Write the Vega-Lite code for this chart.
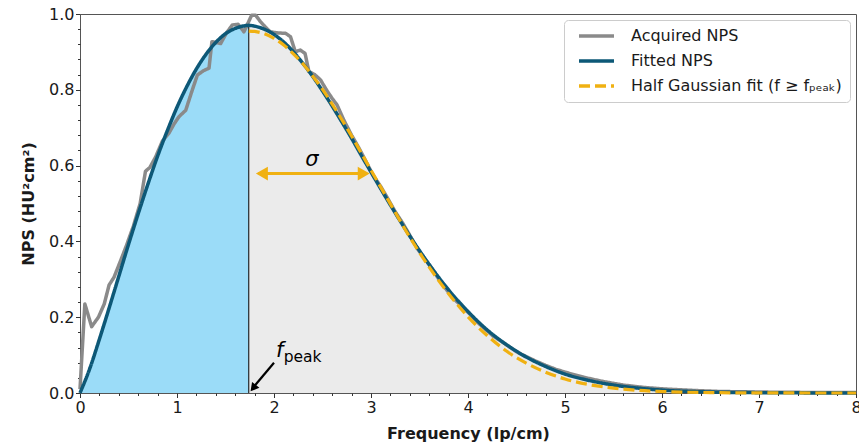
{
  "$schema": "https://vega.github.io/schema/vega-lite/v6.json",
  "width": 776,
  "height": 379,
  "autosize": {"type": "none"},
  "padding": {"left": 80, "top": 14, "right": 3, "bottom": 54},
  "background": "white",
  "config": {
    "font": "DejaVu Sans",
    "view": {"stroke": "#555555", "strokeWidth": 1},
    "legend": {
      "orient": "top-right",
      "offset": 6,
      "symbolType": "stroke",
      "symbolSize": 1225,
      "symbolStrokeWidth": 3.5,
      "symbolOffset": 5,
      "clipHeight": 16,
      "labelFontSize": 16,
      "labelColor": "#1a1a1a",
      "labelFont": "DejaVu Sans",
      "labelOffset": 15,
      "labelLimit": 400,
      "padding": 8,
      "rowPadding": 9,
      "strokeColor": "#cccccc",
      "fillColor": "white",
      "cornerRadius": 4
    }
  },
  "datasets": {
    "fitted": [
      {"f": 0, "v": 0}, {"f": 0.1, "v": 0.064}, {"f": 0.2, "v": 0.142}, {"f": 0.3, "v": 0.224},
      {"f": 0.4, "v": 0.308}, {"f": 0.5, "v": 0.392}, {"f": 0.6, "v": 0.473}, {"f": 0.7, "v": 0.551},
      {"f": 0.8, "v": 0.625}, {"f": 0.9, "v": 0.692}, {"f": 1.0, "v": 0.754}, {"f": 1.1, "v": 0.808},
      {"f": 1.2, "v": 0.855}, {"f": 1.3, "v": 0.894}, {"f": 1.4, "v": 0.925}, {"f": 1.5, "v": 0.948},
      {"f": 1.6, "v": 0.962}, {"f": 1.7, "v": 0.969}, {"f": 1.74, "v": 0.970}, {"f": 1.8, "v": 0.968},
      {"f": 1.9, "v": 0.960}, {"f": 2.0, "v": 0.946}, {"f": 2.1, "v": 0.926}, {"f": 2.2, "v": 0.900},
      {"f": 2.3, "v": 0.869}, {"f": 2.4, "v": 0.835}, {"f": 2.5, "v": 0.797}, {"f": 2.6, "v": 0.757},
      {"f": 2.7, "v": 0.715}, {"f": 2.8, "v": 0.672}, {"f": 2.9, "v": 0.627}, {"f": 3.0, "v": 0.583},
      {"f": 3.2, "v": 0.496}, {"f": 3.4, "v": 0.414}, {"f": 3.6, "v": 0.339}, {"f": 3.8, "v": 0.272},
      {"f": 4.0, "v": 0.215}, {"f": 4.2, "v": 0.166}, {"f": 4.4, "v": 0.127}, {"f": 4.6, "v": 0.095},
      {"f": 4.8, "v": 0.070}, {"f": 5.0, "v": 0.050}, {"f": 5.25, "v": 0.033}, {"f": 5.5, "v": 0.021},
      {"f": 5.75, "v": 0.013}, {"f": 6.0, "v": 0.0076}, {"f": 6.5, "v": 0.0026}, {"f": 7.0, "v": 0.0009},
      {"f": 7.5, "v": 0.0003}, {"f": 8.0, "v": 0.0001}
    ],
    "gaussian": [
      {"f": 1.74, "v": 0.955}, {"f": 1.8, "v": 0.954}, {"f": 1.9, "v": 0.948}, {"f": 2.0, "v": 0.936},
      {"f": 2.1, "v": 0.918}, {"f": 2.2, "v": 0.895}, {"f": 2.3, "v": 0.868}, {"f": 2.4, "v": 0.836},
      {"f": 2.5, "v": 0.801}, {"f": 2.6, "v": 0.762}, {"f": 2.7, "v": 0.721}, {"f": 2.8, "v": 0.678},
      {"f": 2.9, "v": 0.633}, {"f": 3.0, "v": 0.588}, {"f": 3.2, "v": 0.499}, {"f": 3.4, "v": 0.411},
      {"f": 3.6, "v": 0.332}, {"f": 3.8, "v": 0.262}, {"f": 4.0, "v": 0.201}, {"f": 4.2, "v": 0.151},
      {"f": 4.4, "v": 0.110}, {"f": 4.6, "v": 0.079}, {"f": 4.8, "v": 0.055}, {"f": 5.0, "v": 0.037},
      {"f": 5.25, "v": 0.022}, {"f": 5.5, "v": 0.013}, {"f": 5.75, "v": 0.007}, {"f": 6.0, "v": 0.004},
      {"f": 6.5, "v": 0.001}, {"f": 7.0, "v": 0.0002}, {"f": 8.0, "v": 0}
    ],
    "acquired": [
      {"f": 0, "v": 0.01}, {"f": 0.05, "v": 0.235}, {"f": 0.12, "v": 0.175}, {"f": 0.19, "v": 0.2},
      {"f": 0.25, "v": 0.235}, {"f": 0.3, "v": 0.285}, {"f": 0.35, "v": 0.305}, {"f": 0.42, "v": 0.35},
      {"f": 0.48, "v": 0.39}, {"f": 0.55, "v": 0.44}, {"f": 0.62, "v": 0.5}, {"f": 0.675, "v": 0.585},
      {"f": 0.72, "v": 0.595}, {"f": 0.78, "v": 0.623}, {"f": 0.85, "v": 0.665}, {"f": 0.915, "v": 0.685},
      {"f": 0.97, "v": 0.71}, {"f": 1.02, "v": 0.729}, {"f": 1.09, "v": 0.746}, {"f": 1.157, "v": 0.799},
      {"f": 1.21, "v": 0.839}, {"f": 1.27, "v": 0.85}, {"f": 1.33, "v": 0.857}, {"f": 1.36, "v": 0.927},
      {"f": 1.45, "v": 0.922}, {"f": 1.51, "v": 0.95}, {"f": 1.57, "v": 0.971}, {"f": 1.63, "v": 0.973},
      {"f": 1.69, "v": 0.953}, {"f": 1.77, "v": 0.997}, {"f": 1.81, "v": 0.997}, {"f": 1.86, "v": 0.98},
      {"f": 1.91, "v": 0.966}, {"f": 1.96, "v": 0.953}, {"f": 2.04, "v": 0.95}, {"f": 2.12, "v": 0.949},
      {"f": 2.17, "v": 0.94}, {"f": 2.22, "v": 0.9}, {"f": 2.27, "v": 0.905}, {"f": 2.32, "v": 0.896},
      {"f": 2.36, "v": 0.848}, {"f": 2.42, "v": 0.84}, {"f": 2.48, "v": 0.826}, {"f": 2.54, "v": 0.8},
      {"f": 2.6, "v": 0.777}, {"f": 2.65, "v": 0.76}, {"f": 2.72, "v": 0.72}, {"f": 2.8, "v": 0.68},
      {"f": 2.87, "v": 0.649}, {"f": 2.93, "v": 0.62}, {"f": 3.02, "v": 0.575}, {"f": 3.1, "v": 0.545},
      {"f": 3.18, "v": 0.51}, {"f": 3.25, "v": 0.478}, {"f": 3.33, "v": 0.447}, {"f": 3.4, "v": 0.416},
      {"f": 3.48, "v": 0.38}, {"f": 3.56, "v": 0.352}, {"f": 3.63, "v": 0.328}, {"f": 3.7, "v": 0.3},
      {"f": 3.78, "v": 0.272}, {"f": 3.86, "v": 0.247}, {"f": 3.94, "v": 0.228}, {"f": 4.02, "v": 0.208},
      {"f": 4.1, "v": 0.186}, {"f": 4.18, "v": 0.168}, {"f": 4.26, "v": 0.15}, {"f": 4.34, "v": 0.137},
      {"f": 4.42, "v": 0.123}, {"f": 4.5, "v": 0.109}, {"f": 4.6, "v": 0.096}, {"f": 4.7, "v": 0.084},
      {"f": 4.8, "v": 0.073}, {"f": 4.9, "v": 0.063}, {"f": 5.0, "v": 0.055}, {"f": 5.2, "v": 0.041},
      {"f": 5.4, "v": 0.03}, {"f": 5.6, "v": 0.021}, {"f": 5.8, "v": 0.015}, {"f": 6.0, "v": 0.011},
      {"f": 6.3, "v": 0.007}, {"f": 6.6, "v": 0.004}, {"f": 7.0, "v": 0.0025}, {"f": 7.5, "v": 0.0015},
      {"f": 8.0, "v": 0.001}
    ]
  },
  "resolve": {"axis": {"x": "independent", "y": "independent"}},
  "layer": [
    {
      "layer": [
        {
          "data": {"name": "fitted"},
          "transform": [{"filter": "datum.f <= 1.74"}],
          "mark": {"type": "area", "color": "#9bdcf8", "interpolate": "monotone"},
          "encoding": {
            "x": {
              "field": "f", "type": "quantitative",
              "scale": {"domain": [0, 8], "nice": false, "zero": false},
              "axis": {
                "orient": "bottom", "values": [0, 1, 2, 3, 4, 5, 6, 7, 8], "format": "d",
                "title": "Frequency (lp/cm)", "titleFontSize": 16, "titleFontWeight": "bold",
                "titleColor": "#1a1a1a", "titlePadding": 10,
                "labelFontSize": 16, "labelColor": "#1a1a1a", "labelFlush": false, "labelPadding": 1.5,
                "tickSize": 4.5, "tickColor": "#333333", "domain": false, "grid": false
              }
            },
            "y": {
              "field": "v", "type": "quantitative",
              "scale": {"domain": [0, 1], "nice": false},
              "axis": {
                "orient": "left", "values": [0, 0.2, 0.4, 0.6, 0.8, 1.0], "format": ".1f",
                "title": "NPS (HU²cm²)", "titleFontSize": 16, "titleFontWeight": "bold",
                "titleColor": "#1a1a1a", "titlePadding": 12,
                "labelFontSize": 16, "labelColor": "#1a1a1a", "labelFlush": false, "labelPadding": 1.5,
                "tickSize": 4.5, "tickColor": "#333333", "domain": false, "grid": false
              }
            }
          }
        },
        {
          "data": {"name": "fitted"},
          "transform": [{"filter": "datum.f >= 1.74"}],
          "mark": {"type": "area", "color": "#ebebeb", "interpolate": "monotone"},
          "encoding": {
            "x": {"field": "f", "type": "quantitative"},
            "y": {"field": "v", "type": "quantitative"}
          }
        },
        {
          "data": {"values": [{"f": 1.74, "v0": 0, "v": 0.97}]},
          "mark": {"type": "rule", "color": "black", "strokeWidth": 1},
          "encoding": {
            "x": {"field": "f", "type": "quantitative"},
            "y": {"field": "v0", "type": "quantitative"},
            "y2": {"field": "v"}
          }
        },
        {
          "data": {"name": "acquired"},
          "mark": {"type": "line", "strokeWidth": 3.5, "strokeJoin": "round"},
          "encoding": {
            "x": {"field": "f", "type": "quantitative"},
            "y": {"field": "v", "type": "quantitative"},
            "color": {
              "datum": "Acquired NPS", "type": "nominal",
              "scale": {
                "domain": ["Acquired NPS", "Fitted NPS", "Half Gaussian fit (f ≥ fₚₑₐₖ)"],
                "range": ["#8a8a8a", "#0d5877", "#f0b112"]
              },
              "legend": {"title": null}
            },
            "strokeDash": {
              "datum": "Acquired NPS", "type": "nominal",
              "scale": {
                "domain": ["Acquired NPS", "Fitted NPS", "Half Gaussian fit (f ≥ fₚₑₐₖ)"],
                "range": [[1, 0], [1, 0], [11, 5]]
              },
              "legend": {"title": null}
            }
          }
        },
        {
          "data": {"name": "fitted"},
          "mark": {"type": "line", "strokeWidth": 3.5, "interpolate": "monotone"},
          "encoding": {
            "x": {"field": "f", "type": "quantitative"},
            "y": {"field": "v", "type": "quantitative"},
            "color": {"datum": "Fitted NPS", "type": "nominal"},
            "strokeDash": {"datum": "Fitted NPS", "type": "nominal"}
          }
        },
        {
          "data": {"name": "gaussian"},
          "mark": {"type": "line", "strokeWidth": 3.2, "interpolate": "monotone"},
          "encoding": {
            "x": {"field": "f", "type": "quantitative"},
            "y": {"field": "v", "type": "quantitative"},
            "color": {"datum": "Half Gaussian fit (f ≥ fₚₑₐₖ)", "type": "nominal"},
            "strokeDash": {"datum": "Half Gaussian fit (f ≥ fₚₑₐₖ)", "type": "nominal"}
          }
        },
        {
          "data": {"values": [{"f": 1.84, "f2": 2.96, "v": 0.579}]},
          "mark": {"type": "rule", "color": "#f0b112", "strokeWidth": 3},
          "encoding": {
            "x": {"field": "f", "type": "quantitative"},
            "x2": {"field": "f2"},
            "y": {"field": "v", "type": "quantitative"}
          }
        },
        {
          "data": {"values": [{"f": 1.875, "v": 0.579}]},
          "mark": {"type": "point", "shape": "triangle-left", "filled": true, "color": "#f0b112", "size": 190, "opacity": 1},
          "encoding": {
            "x": {"field": "f", "type": "quantitative"},
            "y": {"field": "v", "type": "quantitative"}
          }
        },
        {
          "data": {"values": [{"f": 2.925, "v": 0.579}]},
          "mark": {"type": "point", "shape": "triangle-right", "filled": true, "color": "#f0b112", "size": 190, "opacity": 1},
          "encoding": {
            "x": {"field": "f", "type": "quantitative"},
            "y": {"field": "v", "type": "quantitative"}
          }
        },
        {
          "data": {"values": [{"f": 2.39, "v": 0.615, "t": "σ"}]},
          "mark": {"type": "text", "font": "DejaVu Sans", "fontStyle": "italic", "fontSize": 21, "color": "black", "align": "center", "baseline": "middle"},
          "encoding": {
            "x": {"field": "f", "type": "quantitative"},
            "y": {"field": "v", "type": "quantitative"},
            "text": {"field": "t"}
          }
        },
        {
          "description": "Pointer shaft towards the peak frequency",
          "data": {"values": [{"f": 2.0, "v": 0.08}, {"f": 1.79, "v": 0.016}]},
          "mark": {"type": "line", "color": "black", "strokeWidth": 2.2},
          "encoding": {
            "x": {"field": "f", "type": "quantitative"},
            "y": {"field": "v", "type": "quantitative"}
          }
        },
        {
          "data": {"values": [{"f": 1.785, "v": 0.013}]},
          "mark": {"type": "point", "shape": "triangle-up", "filled": true, "color": "black", "size": 90, "angle": 219, "opacity": 1},
          "encoding": {
            "x": {"field": "f", "type": "quantitative"},
            "y": {"field": "v", "type": "quantitative"}
          }
        },
        {
          "data": {"values": [{"f": 2.06, "v": 0.111, "t": "f"}]},
          "mark": {"type": "text", "font": "DejaVu Sans", "fontStyle": "italic", "fontSize": 21, "color": "black", "align": "center", "baseline": "middle"},
          "encoding": {
            "x": {"field": "f", "type": "quantitative"},
            "y": {"field": "v", "type": "quantitative"},
            "text": {"field": "t"}
          }
        },
        {
          "data": {"values": [{"f": 2.1, "v": 0.094, "t": "peak"}]},
          "mark": {"type": "text", "font": "DejaVu Sans", "fontSize": 15.5, "color": "black", "align": "left", "baseline": "middle"},
          "encoding": {
            "x": {"field": "f", "type": "quantitative"},
            "y": {"field": "v", "type": "quantitative"},
            "text": {"field": "t"}
          }
        }
      ]
    },
    {
      "data": {"name": "acquired"},
      "mark": {"type": "point", "opacity": 0},
      "encoding": {
        "x": {
          "field": "f", "type": "quantitative",
          "axis": {
            "orient": "bottom", "title": null, "labels": false, "domain": false, "grid": false,
            "tickSize": 2.5, "tickColor": "#333333",
            "values": [0.2, 0.4, 0.6, 0.8, 1.2, 1.4, 1.6, 1.8, 2.2, 2.4, 2.6, 2.8, 3.2, 3.4, 3.6, 3.8, 4.2, 4.4, 4.6, 4.8, 5.2, 5.4, 5.6, 5.8, 6.2, 6.4, 6.6, 6.8, 7.2, 7.4, 7.6, 7.8]
          }
        },
        "y": {
          "field": "v", "type": "quantitative",
          "axis": {
            "orient": "left", "title": null, "labels": false, "domain": false, "grid": false,
            "tickSize": 2.5, "tickColor": "#333333",
            "values": [0.04, 0.08, 0.12, 0.16, 0.24, 0.28, 0.32, 0.36, 0.44, 0.48, 0.52, 0.56, 0.64, 0.68, 0.72, 0.76, 0.84, 0.88, 0.92, 0.96]
          }
        }
      }
    }
  ]
}
